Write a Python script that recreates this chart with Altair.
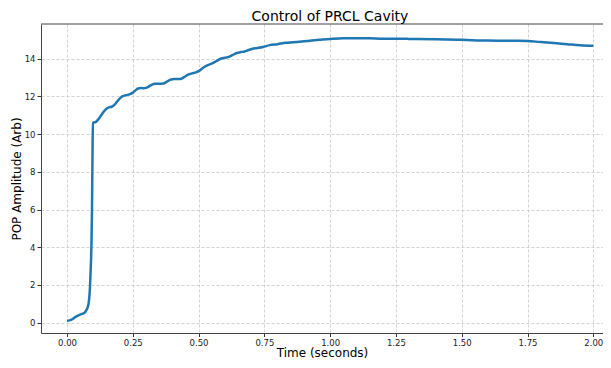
import altair as alt
import pandas as pd

# Time (seconds)
time_s = [0.0, 0.01, 0.02, 0.03, 0.04, 0.05, 0.06, 0.07, 0.078, 0.083, 0.087,
          0.09, 0.093, 0.095, 0.097, 0.0985, 0.11, 0.12, 0.13, 0.14, 0.15,
          0.16, 0.17, 0.18, 0.19, 0.2, 0.21, 0.22, 0.23, 0.24, 0.25, 0.26,
          0.27, 0.28, 0.29, 0.3, 0.31, 0.32, 0.335, 0.35, 0.365, 0.38, 0.395,
          0.41, 0.43, 0.445, 0.46, 0.475, 0.49, 0.505, 0.52, 0.535, 0.55,
          0.565, 0.58, 0.6, 0.615, 0.63, 0.645, 0.66, 0.675, 0.69, 0.705,
          0.725, 0.745, 0.77, 0.8, 0.83, 0.86, 0.9, 0.93, 0.96, 1.0, 1.05,
          1.1, 1.15, 1.2, 1.3, 1.4, 1.5, 1.6, 1.7, 1.75, 1.8, 1.85, 1.9,
          1.95, 2.0]

# POP Amplitude (Arb)
amplitude = [0.1, 0.12, 0.18, 0.28, 0.36, 0.43, 0.48, 0.58, 0.8, 1.1, 1.8,
             2.8, 4.2, 6.0, 9.0, 10.6, 10.65, 10.8, 11.0, 11.2, 11.35,
             11.42, 11.45, 11.55, 11.72, 11.88, 12.0, 12.05, 12.08, 12.12,
             12.2, 12.32, 12.42, 12.45, 12.43, 12.45, 12.52, 12.6, 12.67,
             12.67, 12.68, 12.78, 12.9, 12.92, 12.92, 13.02, 13.15, 13.22,
             13.27, 13.38, 13.55, 13.66, 13.74, 13.85, 13.97, 14.05, 14.1,
             14.2, 14.3, 14.35, 14.38, 14.46, 14.53, 14.57, 14.62, 14.72,
             14.77, 14.84, 14.87, 14.92, 14.96, 15.0, 15.05, 15.08, 15.09,
             15.08, 15.06, 15.05, 15.03, 15.0, 14.96, 14.95, 14.94, 14.88,
             14.83, 14.77, 14.71, 14.68]

x_ticks = [0.0, 0.25, 0.5, 0.75, 1.0, 1.25, 1.5, 1.75, 2.0]
y_ticks = [0, 2, 4, 6, 8, 10, 12, 14]

df = pd.DataFrame({"t": time_s, "v": amplitude})

FONT = "DejaVu Sans"
W, H = 562, 309

line = alt.Chart(df).mark_line(
    color="#1f77b4", strokeWidth=2.5, interpolate="monotone", clip=True
).encode(
    x=alt.X("t:Q",
            scale=alt.Scale(domain=[-0.0988, 2.0369], nice=False, zero=False),
            axis=alt.Axis(title="Time (seconds)", values=x_ticks, format=".2f",
                          titlePadding=1, labelPadding=1.5, tickSize=3.5)),
    y=alt.Y("v:Q",
            scale=alt.Scale(domain=[-0.55, 15.84], nice=False, zero=False),
            axis=alt.Axis(title="POP Amplitude (Arb)", values=y_ticks,
                          format="d", titlePadding=1)),
)

top_border = alt.Chart(alt.Data(values=[{"a": 1}])).mark_rule(
    color="#444444", strokeWidth=1
).encode(x=alt.value(0), x2=alt.value(W), y=alt.value(0))

chart = alt.layer(line, top_border).properties(
    width=W,
    height=H,
    autosize=alt.AutoSizeParams(type="none"),
    padding={"left": 33, "top": 16, "right": 0, "bottom": 27},
    title=alt.TitleParams("Control of PRCL Cavity", fontSize=14, font=FONT,
                          fontWeight="normal", color="#000000", offset=0,
                          dx=8, anchor="middle"),
).configure_view(
    stroke=None
).configure_axis(
    domain=True,
    domainColor="#444444",
    domainWidth=1,
    grid=True,
    gridColor="#c8c8c8",
    gridDash=[3, 2],
    gridWidth=0.8,
    ticks=True,
    tickColor="#333333",
    tickSize=4,
    labelFont=FONT,
    labelFontSize=8.5,
    labelColor="#222222",
    labelPadding=2,
    titleFont=FONT,
    titleFontSize=12,
    titleFontWeight="normal",
    titleColor="#000000",
)

chart.save("out.html", embed_options={"renderer": "svg", "actions": False})
